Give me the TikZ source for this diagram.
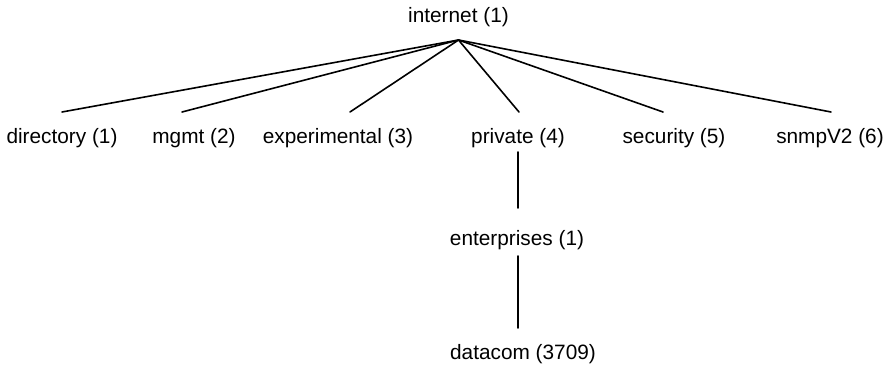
\documentclass[tikz,border=0pt]{standalone}
\usepackage{fontspec}
\setmainfont{Liberation Sans}
\begin{document}
\begin{tikzpicture}[x=1pt,y=-1pt,
  lbl/.style={anchor=base,inner sep=0pt,font=\fontsize{20.8}{24}\selectfont},
  edge/.style={line width=1.6pt,line cap=round}]
\useasboundingbox (0,0) rectangle (891,364);
\node[lbl] (internet) at (458.5,22) {internet (1)};
\node[lbl] (directory) at (62,143) {directory (1)};
\node[lbl] (mgmt) at (194,143) {mgmt (2)};
\node[lbl] (experimental) at (338,143) {experimental (3)};
\node[lbl] (private) at (518,143) {private (4)};
\node[lbl] (security) at (674,143) {security (5)};
\node[lbl] (snmp) at (830,143) {snmpV2 (6)};
\node[lbl] (enterprises) at (517,245) {enterprises (1)};
\node[lbl] (datacom) at (523,359) {datacom (3709)};
\coordinate (apex) at ([yshift=-18pt]internet.base);
\draw[edge] (apex) -- ([yshift=31pt]directory.base);
\draw[edge] (apex) -- ([xshift=-12pt,yshift=31pt]mgmt.base);
\draw[edge] (apex) -- ([xshift=12pt,yshift=31pt]experimental.base);
\draw[edge] (apex) -- ([xshift=1pt,yshift=31pt]private.base);
\draw[edge] (apex) -- ([xshift=-11pt,yshift=31pt]security.base);
\draw[edge] (apex) -- ([xshift=1pt,yshift=31pt]snmp.base);
\draw[edge] ([yshift=-9pt]private.base) -- ([xshift=1pt,yshift=37pt]enterprises.base);
\draw[edge] ([xshift=1pt,yshift=-11pt]enterprises.base) -- ([xshift=-5pt,yshift=31pt]datacom.base);
\end{tikzpicture}
\end{document}
